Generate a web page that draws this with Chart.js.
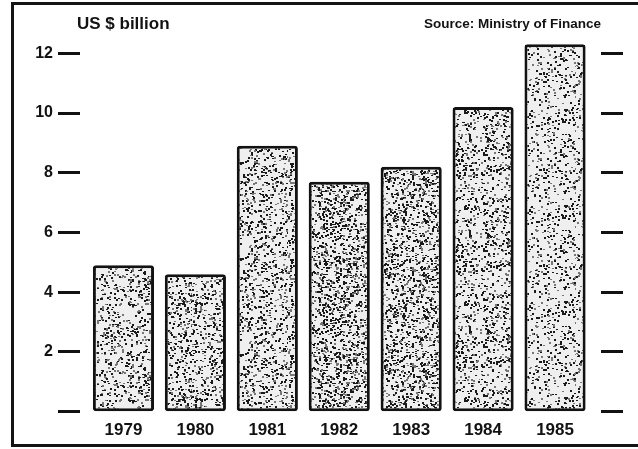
<!DOCTYPE html>
<html><head><meta charset="utf-8">
<style>
html,body{margin:0;padding:0;background:#fff;}
#wrap{position:relative;width:638px;height:449px;overflow:hidden;background:#fff;}
#frame{position:absolute;left:11px;top:2px;width:700px;height:445px;box-sizing:border-box;border-left:3px solid #141414;border-top:3px solid #141414;border-bottom:3px solid #141414;}
canvas{position:absolute;left:0;top:0;}
</style>
<script src="https://cdn.jsdelivr.net/npm/chart.js@4"></script>
</head><body>
<div id="wrap"><div id="frame"></div><canvas id="c" width="638" height="449"></canvas></div>
<script>
// ---- data ----
const years = ['1979', '1980', '1981', '1982', '1983', '1984', '1985'];
const valuesBn = [4.9, 4.6, 8.9, 7.7, 8.2, 10.2, 12.3];
const yTickValues = [0, 2, 4, 6, 8, 10, 12];
const unitLabel = 'US $ billion';
const sourceLabel = 'Source: Ministry of Finance';

// ---- styles ----
const barShade = [0.20, 0.24, 0.22, 0.30, 0.30, 0.21, 0.15];

function makeStipple(density, seed) {
  const size = 96;
  const c = document.createElement('canvas');
  c.width = size; c.height = size;
  const g = c.getContext('2d');
  g.fillStyle = '#efefef';
  g.fillRect(0, 0, size, size);
  let s = seed;
  const next = () => { s = (Math.imul(s, 1103515245) + 12345) >>> 0; return (s >>> 8) / 16777216; };
  const n = Math.round(size * size * density / 2.5);
  for (let i = 0; i < n; i++) {
    const x = Math.floor(next() * size), y = Math.floor(next() * size);
    g.fillStyle = next() < 0.65 ? '#1a1a1a' : '#777777';
    g.fillRect(x, y, 2, next() < 0.4 ? 1 : 2);
  }
  return g.createPattern(c, 'repeat');
}
const patterns = barShade.map((d, i) => makeStipple(d, 1234 + i * 977));

const font = 'Liberation Sans';
const ink = '#121212';

const textPlugin = {
  id: 'texts',
  afterDraw(chart) {
    const ctx = chart.ctx;
    ctx.save();
    ctx.fillStyle = ink;
    ctx.textBaseline = 'middle';
    ctx.font = 'bold 17px "' + font + '"';
    ctx.textAlign = 'left';
    ctx.fillText(unitLabel, 77, 24);
    ctx.font = 'bold 13.5px "' + font + '"';
    ctx.textAlign = 'right';
    ctx.fillText(sourceLabel, 601, 24);
    ctx.restore();
  }
};

const setTicks = s => { s.ticks = yTickValues.map(v => ({ value: v })); };

new Chart(document.getElementById('c'), {
  type: 'bar',
  data: {
    labels: years,
    datasets: [{
      data: valuesBn,
      backgroundColor: patterns,
      borderColor: ink,
      borderWidth: 3,
      borderRadius: 3,
      borderSkipped: false,
      barPercentage: 0.85,
      categoryPercentage: 1.0
    }]
  },
  options: {
    responsive: false,
    animation: false,
    devicePixelRatio: 1,
    layout: { padding: { top: 23.4, bottom: 8, left: 0, right: 0 } },
    plugins: { legend: { display: false }, tooltip: { enabled: false } },
    scales: {
      x: {
        offset: true,
        grid: { display: false, drawTicks: false },
        border: { display: false },
        afterFit: s => { s.height = 29.3; },
        ticks: { padding: 8, color: ink, maxRotation: 0, autoSkip: false,
                 font: { family: font, size: 17, weight: 'bold' } }
      },
      y: {
        min: 0, max: 13,
        afterBuildTicks: setTicks,
        afterFit: s => { s.width = 87.5; },
        border: { display: false },
        grid: { drawOnChartArea: false, drawTicks: true, tickLength: 29.5, tickWidth: 3,
                tickColor: ink, tickBorderDash: [22, 200] },
        ticks: { padding: 5, color: ink, font: { family: font, size: 16, weight: 'bold' },
                 callback: v => (v === 0 ? '' : String(v)) }
      },
      y2: {
        position: 'right',
        min: 0, max: 13,
        afterBuildTicks: setTicks,
        afterFit: s => { s.width = 47; },
        border: { display: false },
        grid: { drawOnChartArea: false, drawTicks: true, tickLength: 32, tickWidth: 3,
                tickColor: ink, tickBorderDash: [0, 10, 22, 200] },
        ticks: { display: false }
      }
    }
  },
  plugins: [textPlugin]
});
</script>
</body></html>
